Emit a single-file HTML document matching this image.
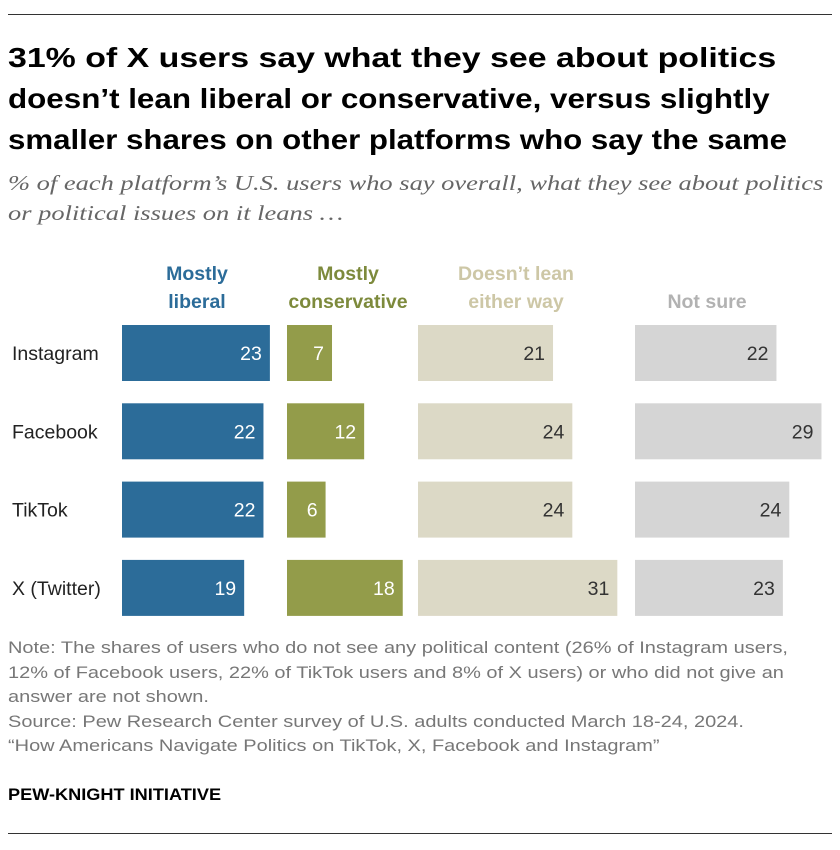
<!DOCTYPE html>
<html><head><meta charset="utf-8">
<style>
body{margin:0;width:840px;height:850px;background:#fff;font-family:"Liberation Sans",sans-serif;position:relative;overflow:hidden}
.rule{position:absolute;left:8px;width:824px;height:1px;background:#333}
h1{position:absolute;left:8px;top:37px;margin:0;font-size:28px;line-height:41px;font-weight:bold;color:#000;white-space:nowrap}
h1 span{display:block;transform-origin:left top}
.sub{position:absolute;left:8px;top:168px;font-family:"Liberation Serif",serif;font-style:italic;font-size:21px;line-height:30px;color:#666;white-space:nowrap;transform:scaleX(1.26);transform-origin:left top}
.note{position:absolute;left:8px;top:636px;font-size:16.8px;line-height:24.5px;color:#777;white-space:nowrap;transform:scaleX(1.19);transform-origin:left top}
.brand{position:absolute;left:8px;top:786px;font-size:16.5px;font-weight:bold;color:#000;white-space:nowrap;transform:scaleX(1.1);transform-origin:left top}
svg text{font-family:"Liberation Sans",sans-serif}
</style></head><body>
<div class="rule" style="top:14px"></div>
<h1><span style="transform:scaleX(1.21)">31% of X users say what they see about politics</span><span style="transform:scaleX(1.12)">doesn’t lean liberal or conservative, versus slightly</span><span style="transform:scaleX(1.115)">smaller shares on other platforms who say the same</span></h1>
<div class="sub">% of each platform’s U.S. users who say overall, what they see about politics<br>or political issues on it leans …</div>
<svg id="chart" width="840" height="630" style="position:absolute;left:0;top:0"></svg>
<div class="note">Note: The shares of users who do not see any political content (26% of Instagram users,<br>12% of Facebook users, 22% of TikTok users and 8% of X users) or who did not give an<br>answer are not shown.<br>Source: Pew Research Center survey of U.S. adults conducted March 18-24, 2024.<br>“How Americans Navigate Politics on TikTok, X, Facebook and Instagram”</div>
<div class="brand">PEW-KNIGHT INITIATIVE</div>
<div class="rule" style="top:833px"></div>
<script>
const categories=["Instagram","Facebook","TikTok","X (Twitter)"];
const liberal=[23,22,22,19];
const conservative=[7,12,6,18];
const neither=[21,24,24,31];
const notSure=[22,29,24,23];
const series=[liberal,conservative,neither,notSure];
const seriesNames=["liberal","conservative","neither","not-sure"];
const headers=[["Mostly","liberal"],["Mostly","conservative"],["Doesn’t lean","either way"],["Not sure"]];
const colStart=[122,287,418,635];
const fills=["#2c6c99","#939c4a","#dcd9c6","#d5d5d5"];
const headColors=["#2c6c99","#7d8a3c","#cdc7a6","#b2b2b2"];
const labelColors=["#fff","#fff","#333","#333"];
const unit=6.43;
const x=(c,v)=>colStart[c]+v*unit;
const y=i=>325+i*78.3;
const barH=56;
const svg=document.getElementById('chart');
const NS="http://www.w3.org/2000/svg";
function mk(t,a,txt){const e=document.createElementNS(NS,t);for(const k in a)e.setAttribute(k,a[k]);if(txt!=null)e.textContent=txt;svg.appendChild(e);return e;}
headers.forEach((h,c)=>{
  const cx=c<3?(colStart[c]+(c==0?75:c==1?61:98)):707;
  h.forEach((line,j)=>{
    const ty=h.length==1?308:280+j*28;
    const t=mk('text',{x:cx,y:ty,'text-anchor':'middle','font-size':19.5,'font-weight':'bold',fill:headColors[c]},line);
    
    
  });
});
categories.forEach((cat,i)=>{
  const l=mk('text',{x:12,y:y(i)+barH/2+7,'font-size':19.5,fill:'#222'},cat);
  
  
  series.forEach((s,c)=>{
    const v=s[i];
    const r=mk('rect',{x:colStart[c],y:y(i),width:x(c,v)-colStart[c],height:barH,fill:fills[c]});
    
    
    const t=mk('text',{x:x(c,v)-8,y:y(i)+barH/2+7,'text-anchor':'end','font-size':19.5,fill:labelColors[c]},String(v));
    
    
  });
});
</script>
</body></html>
